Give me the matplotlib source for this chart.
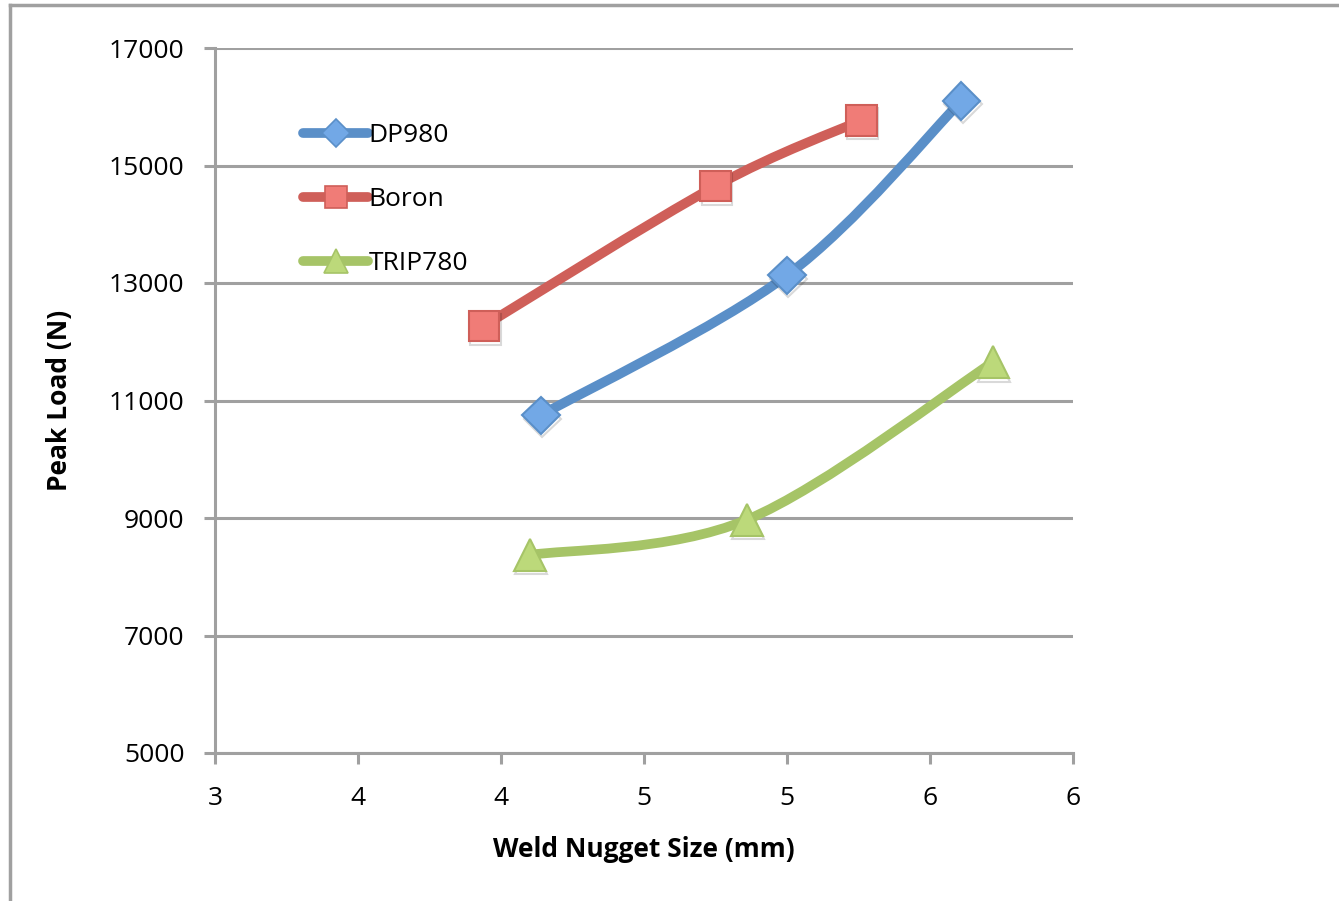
import matplotlib
matplotlib.use("Agg")
import matplotlib.pyplot as plt
from matplotlib.path import Path
from matplotlib.patches import PathPatch
from matplotlib.lines import Line2D
import matplotlib.patheffects as pe
import numpy as np

# Data
dp980_x = [4.14, 5.00, 5.61]
dp980_y = [10750, 13130, 16100]
boron_x = [3.94, 4.75, 5.26]
boron_y = [12270, 14650, 15770]
trip_x = [4.10, 4.86, 5.72]
trip_y = [8370, 8970, 11650]

x_ticks = [3, 3.5, 4, 4.5, 5, 5.5, 6]
x_tick_labels = ["3", "4", "4", "5", "5", "6", "6"]
y_ticks = [5000, 7000, 9000, 11000, 13000, 15000, 17000]

series = [
    ("DP980", dp980_x, dp980_y, "#5a8fc8", "#72a8e6", "D", 19),
    ("Boron", boron_x, boron_y, "#cf5f59", "#f07c77", "s", 22),
    ("TRIP780", trip_x, trip_y, "#a6c467", "#bcd97a", "^", 23),
]

plt.rcParams['font.family'] = ['Open Sans', 'DejaVu Sans']

W, H = 1339, 901
fig = plt.figure(figsize=(W / 100, H / 100), dpi=100)
ax = fig.add_axes([215 / W, 1 - 753 / H, (1073 - 215) / W, (753 - 48) / H])

grid_c = "#a0a0a0"
FS = 19


def smooth_path(xs, ys):
    pts = np.column_stack([xs, ys]).astype(float)
    n = len(pts)
    verts = [pts[0]]
    codes = [Path.MOVETO]
    for i in range(n - 1):
        p0 = pts[max(i - 1, 0)]
        p1 = pts[i]
        p2 = pts[i + 1]
        p3 = pts[min(i + 2, n - 1)]
        c1 = p1 + (p2 - p0) / 6.0
        c2 = p2 - (p3 - p1) / 6.0
        verts += [c1, c2, p2]
        codes += [Path.CURVE4] * 3
    return Path(verts, codes)


handles = []
for name, xs, ys, lc, mc, mk, ms in series:
    patch = PathPatch(smooth_path(xs, ys), facecolor="none", edgecolor=lc,
                      lw=7, capstyle="round", joinstyle="round", zorder=3)
    ax.add_patch(patch)
    ax.plot(xs, ys, linestyle="none", marker=mk, markersize=ms,
            markerfacecolor=mc, markeredgecolor=lc, markeredgewidth=1.5,
            zorder=4,
            path_effects=[pe.SimpleLineShadow(offset=(1, -2.5), alpha=0.15,
                                              shadow_color="black"), pe.Normal()])
    handles.append(Line2D([], [], color=lc, lw=7, solid_capstyle="round",
                          marker=mk, markersize=ms * 0.75, markerfacecolor=mc,
                          markeredgecolor=lc, markeredgewidth=1.2))

ax.set_xlim(3, 6)
ax.set_ylim(5000, 17000)
ax.set_xticks(x_ticks)
ax.set_xticklabels(x_tick_labels)
ax.set_yticks(y_ticks)
ax.set_yticklabels([str(v) for v in y_ticks])

ax.grid(axis="y", color=grid_c, lw=2.2)
ax.set_axisbelow(True)
for s in ["top", "right"]:
    ax.spines[s].set_visible(False)
for s in ["left", "bottom"]:
    ax.spines[s].set_color(grid_c)
    ax.spines[s].set_linewidth(2.2)
ax.tick_params(axis="both", colors=grid_c, width=2.2, length=8,
               labelcolor="black", labelsize=FS)
ax.tick_params(axis="y", pad=14)
ax.tick_params(axis="x", pad=16)

ax.set_xlabel("Weld Nugget Size (mm)", fontsize=FS, fontweight="bold", labelpad=18)
ax.set_ylabel("Peak Load (N)", fontsize=FS, fontweight="bold", labelpad=26)

leg = ax.legend(handles, [s[0] for s in series], loc="upper left",
                bbox_to_anchor=(290 / W, 1 - 110 / H), bbox_transform=fig.transFigure,
                frameon=False, fontsize=FS, handlelength=2.45, handletextpad=0.02,
                labelspacing=1.48, borderpad=0)

# Chart outer frame (left and top edges)
fig.add_artist(Line2D([10 / W, 10 / W], [0, 1 - 5 / H], color=grid_c, lw=2.5,
                      transform=fig.transFigure))
fig.add_artist(Line2D([10 / W, 1], [1 - 5 / H, 1 - 5 / H], color=grid_c, lw=2.5,
                      transform=fig.transFigure))

fig.savefig("out.png", dpi=100)
